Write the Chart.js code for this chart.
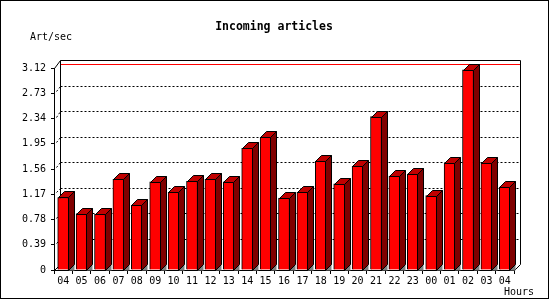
<!DOCTYPE html>
<html>
<head>
<meta charset="utf-8">
<script src="https://cdn.jsdelivr.net/npm/chart.js@4.4.0/dist/chart.umd.min.js"></script>
<style>
  body { margin: 0; background: #fff; }
</style>
</head>
<body>
<canvas id="myChart" width="550" height="300"></canvas>
<script>
// data
var hours = ['04', '05', '06', '07', '08', '09', '10', '11', '12', '13', '14', '15',
             '16', '17', '18', '19', '20', '21', '22', '23', '00', '01', '02', '03', '04'];
var artPerSec = [1.12, 0.86, 0.86, 1.40, 1.00, 1.36, 1.20, 1.37, 1.40, 1.36, 1.88, 2.05,
                 1.11, 1.20, 1.68, 1.33, 1.60, 2.37, 1.45, 1.48, 1.15, 1.65, 3.09, 1.65, 1.28];
var yTickValues = [0, 0.39, 0.78, 1.17, 1.56, 1.95, 2.34, 2.73, 3.12];
var yTickLabels = ['0', '0.39', '0.78', '1.17', '1.56', '1.95', '2.34', '2.73', '3.12'];

var monoFont = '"DejaVu Sans Mono", monospace';
var DX = 6, DY = 6;

// back wall, gridlines and the 3d bits of the axes
var wallPlugin = {
    id: 'wall',
    beforeDatasetsDraw: function (chart) {
        var c = chart.ctx, a = chart.chartArea, y = chart.scales.y;
        var ymax = yTickValues[yTickValues.length - 1];
        var backY = function (v) { return Math.round(y.getPixelForValue(v) - DY - 2 * v / ymax) + 0.5; };
        var L = Math.round(a.left) + 0.5, R = Math.round(a.right) + 0.5;
        var T = Math.round(a.top) + 0.5, B = Math.round(a.bottom) + 0.5;
        c.save();
        c.lineWidth = 1;
        // dotted gridlines on back wall
        c.strokeStyle = '#000';
        c.setLineDash([2, 2]);
        for (var i = 1; i < yTickValues.length - 1; i++) {
            var by = backY(yTickValues[i]);
            c.beginPath();
            c.moveTo(L + DX, by);
            c.lineTo(R + DX, by);
            c.stroke();
            var fy = Math.round(y.getPixelForValue(yTickValues[i])) + 0.5;
            c.beginPath();
            c.moveTo(L + 2, fy - 2);
            c.lineTo(L + DX, by);
            c.stroke();
        }
        c.setLineDash([]);
        // max line
        var mx = Math.max.apply(null, artPerSec);
        var my = Math.round(y.getPixelForValue(mx) - DY) + 0.5;
        c.strokeStyle = '#FF0000';
        c.beginPath();
        c.moveTo(L + DX, my);
        c.lineTo(R + DX, my);
        c.stroke();
        // wall frame
        var wt = backY(ymax), wb = B - DY;
        c.strokeStyle = '#000';
        c.beginPath();
        c.moveTo(L, T);
        c.lineTo(L + DX, wt);
        c.lineTo(R + DX, wt);
        c.lineTo(R + DX, wb);
        c.lineTo(R, B);
        c.moveTo(L + DX, wt);
        c.lineTo(L + DX, wb);
        c.moveTo(L, B);
        c.lineTo(L + DX, wb);
        c.stroke();
        c.restore();
    },
    afterDatasetsDraw: function (chart) {
        var c = chart.ctx;
        var meta = chart.getDatasetMeta(0);
        c.save();
        c.lineWidth = 1;
        c.strokeStyle = '#000';
        meta.data.forEach(function (bar) {
            var p = bar.getProps(['x', 'y', 'base', 'width'], true);
            var l = Math.round(p.x - p.width / 2) + 0.5;
            var r = Math.round(p.x + p.width / 2) - 0.5;
            var t = Math.round(p.y) + 0.5;
            var b = Math.round(p.base) + 0.5;
            // floor shadow
            c.fillStyle = '#808080';
            c.beginPath();
            c.moveTo(r, b);
            c.lineTo(r + DX, b - DY);
            c.lineTo(r + DX, b);
            c.closePath();
            c.fill();
            // side
            c.fillStyle = '#800000';
            c.beginPath();
            c.moveTo(r, t);
            c.lineTo(r + DX, t - DY);
            c.lineTo(r + DX, b - DY);
            c.lineTo(r, b);
            c.closePath();
            c.fill();
            c.stroke();
            // top
            c.fillStyle = '#C00000';
            c.beginPath();
            c.moveTo(l, t);
            c.lineTo(l + DX, t - DY);
            c.lineTo(r + DX, t - DY);
            c.lineTo(r, t);
            c.closePath();
            c.fill();
            c.stroke();
        });
        c.restore();
    },
    afterDraw: function (chart) {
        var c = chart.ctx;
        c.save();
        c.fillStyle = '#000';
        c.textBaseline = 'middle';
        c.font = 'bold 11.5px ' + monoFont;
        c.textAlign = 'center';
        c.fillText('Incoming articles', 274, 27);
        c.font = '10px ' + monoFont;
        c.textAlign = 'left';
        c.fillText('Art/sec', 30, 37);
        c.fillText('Hours', 504, 292);
        c.strokeStyle = '#000';
        c.lineWidth = 1;
        c.strokeRect(0.5, 0.5, 548, 298);
        c.restore();
    }
};

var ctx = document.getElementById('myChart').getContext('2d');
var chart = new Chart(ctx, {
    type: 'bar',
    data: {
        labels: hours,
        datasets: [{
            data: artPerSec,
            backgroundColor: '#FF0000',
            borderColor: '#000000',
            borderWidth: 1,
            barThickness: 11
        }]
    },
    options: {
        responsive: false,
        animation: false,
        devicePixelRatio: 1,
        layout: { padding: { top: 68, right: 36, bottom: 0, left: 0 } },
        plugins: {
            legend: { display: false },
            title: { display: false },
            tooltip: { enabled: false }
        },
        scales: {
            x: {
                grid: { offset: true, drawOnChartArea: false, tickLength: 4, tickColor: '#000' },
                border: { display: true, color: '#000', width: 1 },
                ticks: {
                    color: '#000', padding: 1, maxRotation: 0, autoSkip: false,
                    font: { family: monoFont, size: 10 }
                },
                afterFit: function (s) { s.height = 30; }
            },
            y: {
                min: 0,
                max: 3.12,
                afterBuildTicks: function (s) {
                    s.ticks = yTickValues.map(function (v) { return { value: v }; });
                },
                grid: { drawOnChartArea: false, tickLength: 3, tickColor: '#000' },
                border: { display: true, color: '#000', width: 1 },
                ticks: {
                    color: '#000', padding: 5,
                    font: { family: monoFont, size: 10 },
                    callback: function (v, i) { return yTickLabels[i]; }
                },
                afterFit: function (s) { s.width = 54; }
            }
        }
    },
    plugins: [wallPlugin]
});
</script>
</body>
</html>
